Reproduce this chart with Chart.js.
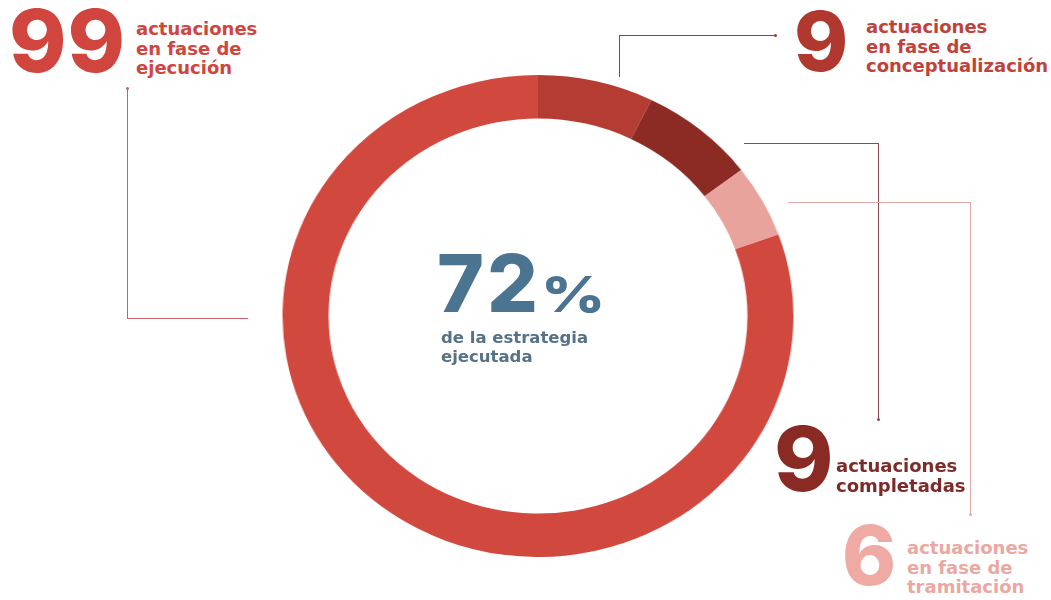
<!DOCTYPE html>
<html>
<head>
<meta charset="utf-8">
<script src="https://cdn.jsdelivr.net/npm/chart.js@4"></script>
<style>
  html, body { margin:0; padding:0; background:#fff; }
  #wrap { position:relative; width:1051px; height:600px; overflow:hidden; background:#fff; font-family:"DejaVu Sans", sans-serif; font-weight:bold; }
  #chartBox { position:absolute; left:297px; top:75px; width:482px; height:482px; transform:scaleX(1.06); transform-origin:center center; }
  .t { position:absolute; white-space:nowrap; }
  .big { line-height:1; font-family:Inter, "DejaVu Sans", sans-serif; font-weight:800; }
  .lab { font-size:18px; line-height:19.5px; }
  .ln { position:absolute; }
  .dot { position:absolute; width:3px; height:3px; border-radius:50%; }
</style>
</head>
<body>
<div id="wrap">
  <div id="chartBox"><canvas id="c" width="482" height="482"></canvas></div>

  <!-- 99 ejecución -->
  <div class="t big" style="left:9px;top:-3px;font-size:87px;color:#d0453d;letter-spacing:1px;">99</div>
  <div class="t lab" style="left:136px;top:19px;color:#d0453d;">actuaciones<br>en fase de<br>ejecución</div>
  <div class="ln" style="left:127px;top:89px;width:1px;height:230px;background:#c9606a;"></div>
  <div class="ln" style="left:127px;top:318px;width:121px;height:1px;background:#c9606a;"></div>
  <div class="dot" style="left:126px;top:87px;background:#c9606a;"></div>

  <!-- 9 conceptualización -->
  <div class="t big" style="left:794px;top:1px;font-size:82px;color:#b0382f;">9</div>
  <div class="t lab" style="left:866px;top:17px;color:#c0423a;">actuaciones<br>en fase de<br>conceptualización</div>
  <div class="ln" style="left:619px;top:35px;width:1px;height:42px;background:#a3393e;"></div>
  <div class="ln" style="left:619px;top:35px;width:156px;height:1px;background:#a3393e;"></div>
  <div class="dot" style="left:774px;top:34px;background:#a3393e;"></div>

  <!-- 9 completadas -->
  <div class="t big" style="left:774px;top:414px;font-size:90px;color:#8a2a24;">9</div>
  <div class="t lab" style="left:836px;top:456px;color:#7d2b28;">actuaciones<br>completadas</div>
  <div class="ln" style="left:744px;top:143px;width:135px;height:1px;background:#8f4a55;"></div>
  <div class="ln" style="left:878px;top:143px;width:1px;height:277px;background:#8f4a55;"></div>
  <div class="dot" style="left:877px;top:418px;background:#8f4a55;"></div>

  <!-- 6 tramitación -->
  <div class="t big" style="left:842px;top:515px;font-size:82px;color:#eeaaa3;">6</div>
  <div class="t lab" style="left:907px;top:538px;color:#eba7a1;">actuaciones<br>en fase de<br>tramitación</div>
  <div class="ln" style="left:788px;top:202px;width:183px;height:1px;background:#e6aaa6;"></div>
  <div class="ln" style="left:970px;top:202px;width:1px;height:313px;background:#e6aaa6;"></div>
  <div class="dot" style="left:969px;top:513px;background:#e6aaa6;"></div>

  <!-- center -->
  <div class="t big" style="left:437px;top:243px;font-size:80px;color:#4b7491;letter-spacing:3px;">72<span style="display:inline-block;font-size:50px;letter-spacing:0;transform:scaleX(1.25);transform-origin:left bottom;margin-left:0px;">%</span></div>
  <div class="t" style="left:441px;top:328px;font-size:16.5px;line-height:19px;color:#557288;">de la estrategia<br>ejecutada</div>
</div>
<script>
const categories = ['En fase de conceptualización', 'Completadas', 'En fase de tramitación', 'En fase de ejecución'];
const values = [9, 9, 6, 99];
const segmentColors = ['#b43c33', '#8c2b24', '#e9a39d', '#d1483f'];

new Chart(document.getElementById('c'), {
  type: 'doughnut',
  data: {
    labels: categories,
    datasets: [{
      data: values,
      backgroundColor: segmentColors,
      borderWidth: 0
    }]
  },
  options: {
    responsive: false,
    animation: false,
    cutout: '82%',
    rotation: 0,
    layout: { padding: 0 },
    plugins: { legend: { display: false }, tooltip: { enabled: false } }
  }
});
</script>
</body>
</html>
